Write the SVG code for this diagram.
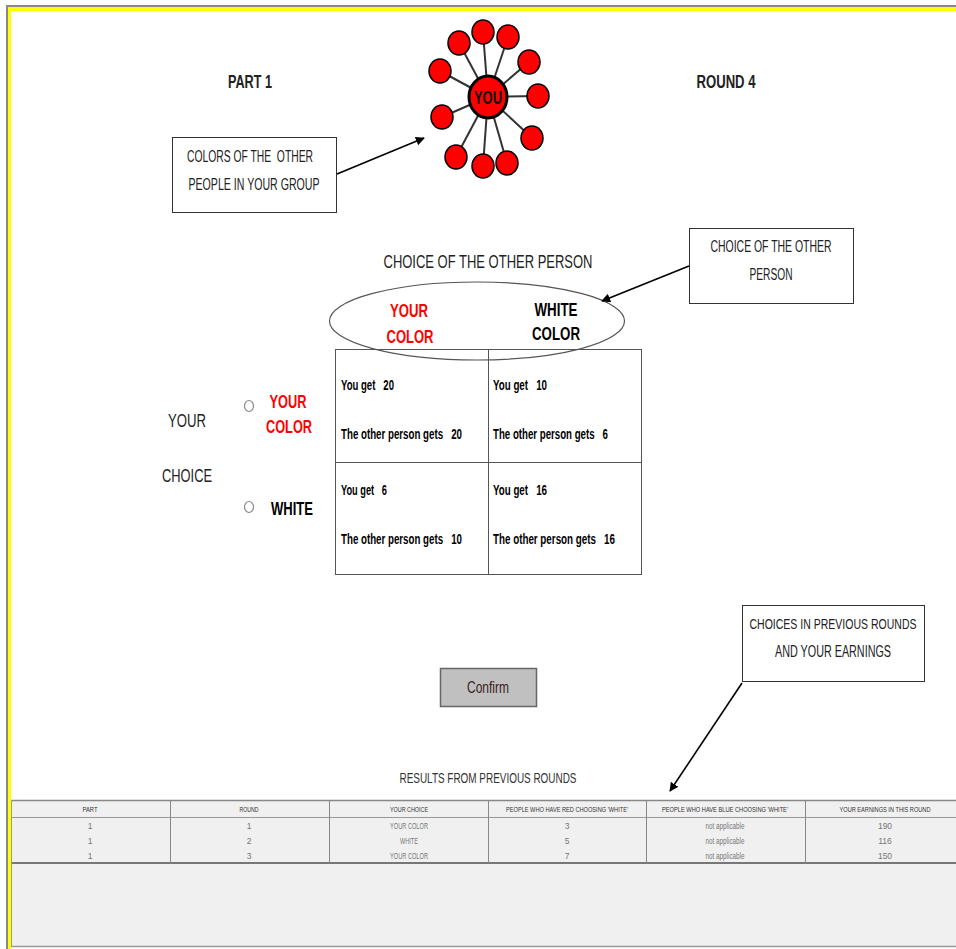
<svg xmlns="http://www.w3.org/2000/svg" width="956" height="949" viewBox="0 0 956 949">
<defs>
<marker id="ah" viewBox="0 0 10 10" refX="9" refY="5" markerWidth="9" markerHeight="9" markerUnits="userSpaceOnUse" orient="auto">
<path d="M0,0 L10,5 L0,10 z" fill="#000"/>
</marker>
<style>
.n{font-family:"Liberation Sans Narrow","Liberation Sans",Arial,sans-serif;white-space:pre;}
.b{font-weight:bold;}
.c{text-anchor:middle;}
.box{fill:#fff;stroke:#333;stroke-width:1;}
.spoke{stroke:#333;stroke-width:2;}
.dot{fill:#f00;stroke:#000;stroke-width:1.5;}
.arr{stroke:#000;stroke-width:1.6;fill:none;marker-end:url(#ah);}
.cell{font-size:14px;font-weight:bold;fill:#000;}
.th{font-size:7.5px;fill:#333;text-anchor:middle;}
.td{font-size:8.5px;fill:#777;text-anchor:middle;}
.grid{stroke:#888;stroke-width:1;}
</style>
</defs>
<rect x="0" y="0" width="956" height="949" fill="#fff"/>
<!-- frame -->
<rect x="6" y="5" width="950" height="2" fill="#888"/>
<rect x="6" y="5" width="2" height="944" fill="#888"/>
<rect x="8" y="7" width="948" height="4" fill="#ff0"/>
<rect x="8" y="7" width="3" height="942" fill="#ff0"/>

<text class="n b c" x="250" y="88" font-size="18" textLength="44" lengthAdjust="spacingAndGlyphs" fill="#222">PART 1</text>
<text class="n b c" x="726" y="88" font-size="18" textLength="59" lengthAdjust="spacingAndGlyphs" fill="#222">ROUND 4</text>

<g id="network">
<line class="spoke" x1="488" y1="97" x2="483" y2="32"/>
<line class="spoke" x1="488" y1="97" x2="508" y2="37"/>
<line class="spoke" x1="488" y1="97" x2="459" y2="43"/>
<line class="spoke" x1="488" y1="97" x2="529" y2="62"/>
<line class="spoke" x1="488" y1="97" x2="440" y2="71"/>
<line class="spoke" x1="488" y1="97" x2="538" y2="96"/>
<line class="spoke" x1="488" y1="97" x2="442" y2="117"/>
<line class="spoke" x1="488" y1="97" x2="532" y2="138"/>
<line class="spoke" x1="488" y1="97" x2="456" y2="157"/>
<line class="spoke" x1="488" y1="97" x2="483" y2="166"/>
<line class="spoke" x1="488" y1="97" x2="507" y2="163"/>
<ellipse class="dot" cx="483" cy="32" rx="11" ry="12"/>
<ellipse class="dot" cx="508" cy="37" rx="11" ry="12"/>
<ellipse class="dot" cx="459" cy="43" rx="11" ry="12"/>
<ellipse class="dot" cx="529" cy="62" rx="11" ry="12"/>
<ellipse class="dot" cx="440" cy="71" rx="11" ry="12"/>
<ellipse class="dot" cx="538" cy="96" rx="11" ry="12"/>
<ellipse class="dot" cx="442" cy="117" rx="11" ry="12"/>
<ellipse class="dot" cx="532" cy="138" rx="11" ry="12"/>
<ellipse class="dot" cx="456" cy="157" rx="11" ry="12"/>
<ellipse class="dot" cx="483" cy="166" rx="11" ry="12"/>
<ellipse class="dot" cx="507" cy="163" rx="11" ry="12"/>
<ellipse cx="488" cy="97" rx="19" ry="21" fill="#f00" stroke="#000" stroke-width="3"/>
<text class="n b c" x="488" y="104" font-size="18" textLength="28" lengthAdjust="spacingAndGlyphs" fill="#111">YOU</text>
</g>

<g id="callout-colors">
<rect class="box" x="172.5" y="137.5" width="164" height="75"/>
<text class="n c" x="250" y="162" font-size="16" textLength="126" lengthAdjust="spacingAndGlyphs" fill="#222">COLORS OF THE  OTHER</text>
<text class="n c" x="254" y="190" font-size="16" textLength="131" lengthAdjust="spacingAndGlyphs" fill="#222">PEOPLE IN YOUR GROUP</text>
</g>

<text class="n c" x="488" y="268" font-size="19" textLength="209" lengthAdjust="spacingAndGlyphs" fill="#222">CHOICE OF THE OTHER PERSON</text>

<g id="callout-choice">
<rect class="box" x="689.5" y="228.5" width="164" height="75"/>
<text class="n c" x="771" y="252" font-size="16" textLength="121" lengthAdjust="spacingAndGlyphs" fill="#222">CHOICE OF THE OTHER</text>
<text class="n c" x="771" y="280" font-size="16" textLength="43" lengthAdjust="spacingAndGlyphs" fill="#222">PERSON</text>
</g>

<g id="matrix">
<rect x="335.5" y="349.5" width="306" height="225" fill="#fff" stroke="#555" stroke-width="1"/>
<line x1="488.5" y1="350" x2="488.5" y2="574" stroke="#555" stroke-width="1"/>
<line x1="336" y1="462.5" x2="641" y2="462.5" stroke="#555" stroke-width="1"/>
<text class="n cell" x="341" y="390" textLength="53" lengthAdjust="spacingAndGlyphs">You get   20</text>
<text class="n cell" x="341" y="439" textLength="121" lengthAdjust="spacingAndGlyphs">The other person gets   20</text>
<text class="n cell" x="493" y="390" textLength="54" lengthAdjust="spacingAndGlyphs">You get   10</text>
<text class="n cell" x="493" y="439" textLength="115" lengthAdjust="spacingAndGlyphs">The other person gets   6</text>
<text class="n cell" x="341" y="495" textLength="46" lengthAdjust="spacingAndGlyphs">You get   6</text>
<text class="n cell" x="341" y="544" textLength="121" lengthAdjust="spacingAndGlyphs">The other person gets   10</text>
<text class="n cell" x="493" y="495" textLength="54" lengthAdjust="spacingAndGlyphs">You get   16</text>
<text class="n cell" x="493" y="544" textLength="122" lengthAdjust="spacingAndGlyphs">The other person gets   16</text>
</g>

<g id="header-ellipse">
<ellipse cx="477" cy="321" rx="147.5" ry="39" fill="none" stroke="#555" stroke-width="1.2"/>
<text class="n b c" x="409" y="317" font-size="19" textLength="38" lengthAdjust="spacingAndGlyphs" fill="#f00">YOUR</text>
<text class="n b c" x="410" y="343" font-size="19" textLength="47" lengthAdjust="spacingAndGlyphs" fill="#f00">COLOR</text>
<text class="n b c" x="556" y="316" font-size="19" textLength="43" lengthAdjust="spacingAndGlyphs" fill="#000">WHITE</text>
<text class="n b c" x="556" y="340" font-size="19" textLength="48" lengthAdjust="spacingAndGlyphs" fill="#000">COLOR</text>
</g>

<g id="your-choice">
<text class="n c" x="187" y="427" font-size="18" textLength="38" lengthAdjust="spacingAndGlyphs" fill="#222">YOUR</text>
<text class="n c" x="187" y="482" font-size="18" textLength="50" lengthAdjust="spacingAndGlyphs" fill="#222">CHOICE</text>
<ellipse cx="249" cy="406" rx="4.5" ry="5.5" fill="#fff" stroke="#888" stroke-width="1.2"/>
<ellipse cx="249" cy="507" rx="4.5" ry="5.5" fill="#fff" stroke="#888" stroke-width="1.2"/>
<text class="n b c" x="288" y="408" font-size="19" textLength="37" lengthAdjust="spacingAndGlyphs" fill="#f00">YOUR</text>
<text class="n b c" x="289" y="433" font-size="19" textLength="46" lengthAdjust="spacingAndGlyphs" fill="#f00">COLOR</text>
<text class="n b c" x="292" y="515" font-size="19" textLength="42" lengthAdjust="spacingAndGlyphs" fill="#000">WHITE</text>
</g>

<g id="callout-previous">
<rect class="box" x="742.5" y="605.5" width="182" height="76"/>
<text class="n c" x="833" y="629" font-size="15.5" textLength="167" lengthAdjust="spacingAndGlyphs" fill="#222">CHOICES IN PREVIOUS ROUNDS</text>
<text class="n c" x="833" y="657" font-size="16" textLength="116" lengthAdjust="spacingAndGlyphs" fill="#222">AND YOUR EARNINGS</text>
</g>

<g id="confirm">
<rect x="440.5" y="668.5" width="96" height="38" fill="#c0c0c0" stroke="#666" stroke-width="1.5"/>
<text class="n c" x="488" y="693" font-size="16" textLength="42" lengthAdjust="spacingAndGlyphs" fill="#3a1c1c">Confirm</text>
</g>

<g id="connectors">
<line class="arr" x1="337" y1="174" x2="424" y2="138"/>
<line class="arr" x1="689" y1="266" x2="602" y2="301"/>
<line class="arr" x1="742" y1="683" x2="670" y2="791"/>
</g>

<text class="n c" x="488" y="783" font-size="14" textLength="177" lengthAdjust="spacingAndGlyphs" fill="#333">RESULTS FROM PREVIOUS ROUNDS</text>

<g id="results-table">
<rect x="11" y="800" width="945" height="147" fill="#f0f0f0"/>
<line x1="11" y1="800.5" x2="956" y2="800.5" stroke="#888" stroke-width="1.5"/>
<line x1="11" y1="817.5" x2="956" y2="817.5" stroke="#999" stroke-width="1"/>
<line x1="11" y1="863" x2="956" y2="863" stroke="#777" stroke-width="2"/>
<line x1="11" y1="946.5" x2="956" y2="946.5" stroke="#999" stroke-width="1.5"/>
<line x1="11.5" y1="800" x2="11.5" y2="947" stroke="#999" stroke-width="1"/>
<line class="grid" x1="170.5" y1="800" x2="170.5" y2="863"/>
<line class="grid" x1="329.5" y1="800" x2="329.5" y2="863"/>
<line class="grid" x1="488.5" y1="800" x2="488.5" y2="863"/>
<line class="grid" x1="646.5" y1="800" x2="646.5" y2="863"/>
<line class="grid" x1="805.5" y1="800" x2="805.5" y2="863"/>
<text class="n th" x="90" y="812" textLength="15" lengthAdjust="spacingAndGlyphs">PART</text>
<text class="n th" x="249" y="812" textLength="19" lengthAdjust="spacingAndGlyphs">ROUND</text>
<text class="n th" x="409" y="812" textLength="38" lengthAdjust="spacingAndGlyphs">YOUR CHOICE</text>
<text class="n th" x="567" y="812" textLength="122" lengthAdjust="spacingAndGlyphs">PEOPLE WHO HAVE RED CHOOSING 'WHITE'</text>
<text class="n th" x="725" y="812" textLength="126" lengthAdjust="spacingAndGlyphs">PEOPLE WHO HAVE BLUE CHOOSING 'WHITE'</text>
<text class="n th" x="885" y="812" textLength="91" lengthAdjust="spacingAndGlyphs">YOUR EARNINGS IN THIS ROUND</text>
<text class="n td" x="90" y="829">1</text>
<text class="n td" x="249" y="829">1</text>
<text class="n td" x="409" y="829" textLength="38" lengthAdjust="spacingAndGlyphs">YOUR COLOR</text>
<text class="n td" x="567" y="829">3</text>
<text class="n td" x="725" y="829" textLength="39" lengthAdjust="spacingAndGlyphs">not applicable</text>
<text class="n td" x="885" y="829">190</text>
<text class="n td" x="90" y="844">1</text>
<text class="n td" x="249" y="844">2</text>
<text class="n td" x="409" y="844" textLength="18" lengthAdjust="spacingAndGlyphs">WHITE</text>
<text class="n td" x="567" y="844">5</text>
<text class="n td" x="725" y="844" textLength="39" lengthAdjust="spacingAndGlyphs">not applicable</text>
<text class="n td" x="885" y="844">116</text>
<text class="n td" x="90" y="859">1</text>
<text class="n td" x="249" y="859">3</text>
<text class="n td" x="409" y="859" textLength="38" lengthAdjust="spacingAndGlyphs">YOUR COLOR</text>
<text class="n td" x="567" y="859">7</text>
<text class="n td" x="725" y="859" textLength="39" lengthAdjust="spacingAndGlyphs">not applicable</text>
<text class="n td" x="885" y="859">150</text>
</g>
</svg>
